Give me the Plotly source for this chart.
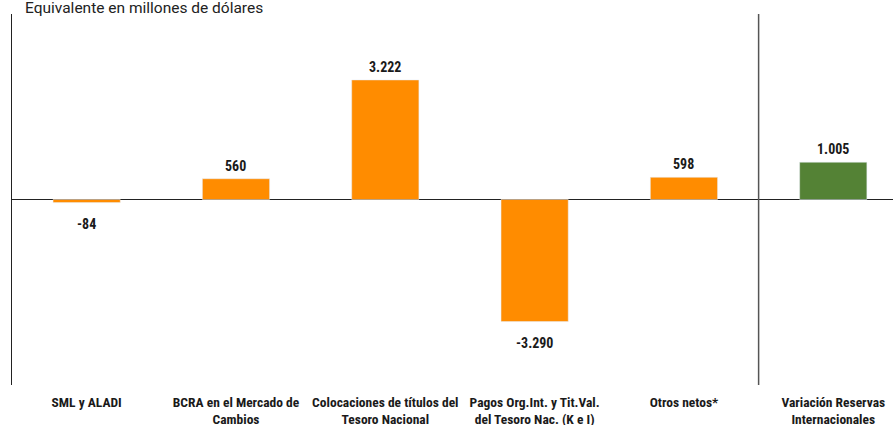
import plotly.graph_objects as go

categories = ["SML y ALADI", "BCRA en el Mercado de<br>Cambios", "Colocaciones de títulos del<br>Tesoro Nacional",
              "Pagos Org.Int. y Tit.Val.<br>del Tesoro Nac. (K e I)", "Otros netos*", "Variación Reservas<br>Internacionales"]
values = [-84, 560, 3222, -3290, 598, 1005]
bar_colors = ["#FF8C00", "#FF8C00", "#FF8C00", "#FF8C00", "#FF8C00", "#548235"]
title_text = "Equivalente en millones de dólares"

label_font = "Roboto Condensed, Roboto, sans-serif"
xs = list(range(len(categories)))


def fmt(v):
    return "{:,}".format(v).replace(",", ".")


fig = go.Figure()
fig.add_trace(go.Bar(x=xs, y=values, marker_color=bar_colors, width=0.45, hoverinfo="skip"))

annotations = []
for x, v in zip(xs, values):
    annotations.append(dict(
        x=x, y=v, xref="x", yref="y", text="<b>%s</b>" % fmt(v), showarrow=False,
        yanchor="bottom" if v >= 0 else "top", yshift=3 if v >= 0 else -11,
        font=dict(family=label_font, size=14, color="#1a1a1a")))
annotations.append(dict(text=title_text, xref="paper", yref="paper", x=11 / 881, y=1,
                        xanchor="left", yanchor="middle", yshift=6, showarrow=False,
                        font=dict(family="Roboto, sans-serif", size=15.5, color="#222")))

fig.update_layout(
    width=893, height=425, margin=dict(l=12, r=0, t=14, b=40),
    paper_bgcolor="white", plot_bgcolor="white", showlegend=False,
    xaxis=dict(range=[-0.5, 5.4], tickmode="array", tickvals=xs,
               ticktext=["<b>%s</b>" % c for c in categories], showgrid=False, zeroline=False,
               showline=False, ticks="", ticklabelstandoff=7, automargin=False,
               tickfont=dict(family=label_font, size=13.5, color="#1a1a1a")),
    yaxis=dict(range=[-5000, 5000], showgrid=False, zeroline=True, zerolinecolor="#222",
               zerolinewidth=1, showline=True, linecolor="#222", linewidth=1,
               showticklabels=False, ticks="", automargin=False),
    shapes=[dict(type="line", xref="x", yref="paper", x0=4.5, x1=4.5, y0=0, y1=1,
                 line=dict(color="#555", width=1.5))],
    annotations=annotations,
)
fig.write_html("out.html", config={"displayModeBar": False},
               post_script="document.body.style.margin='0';")
